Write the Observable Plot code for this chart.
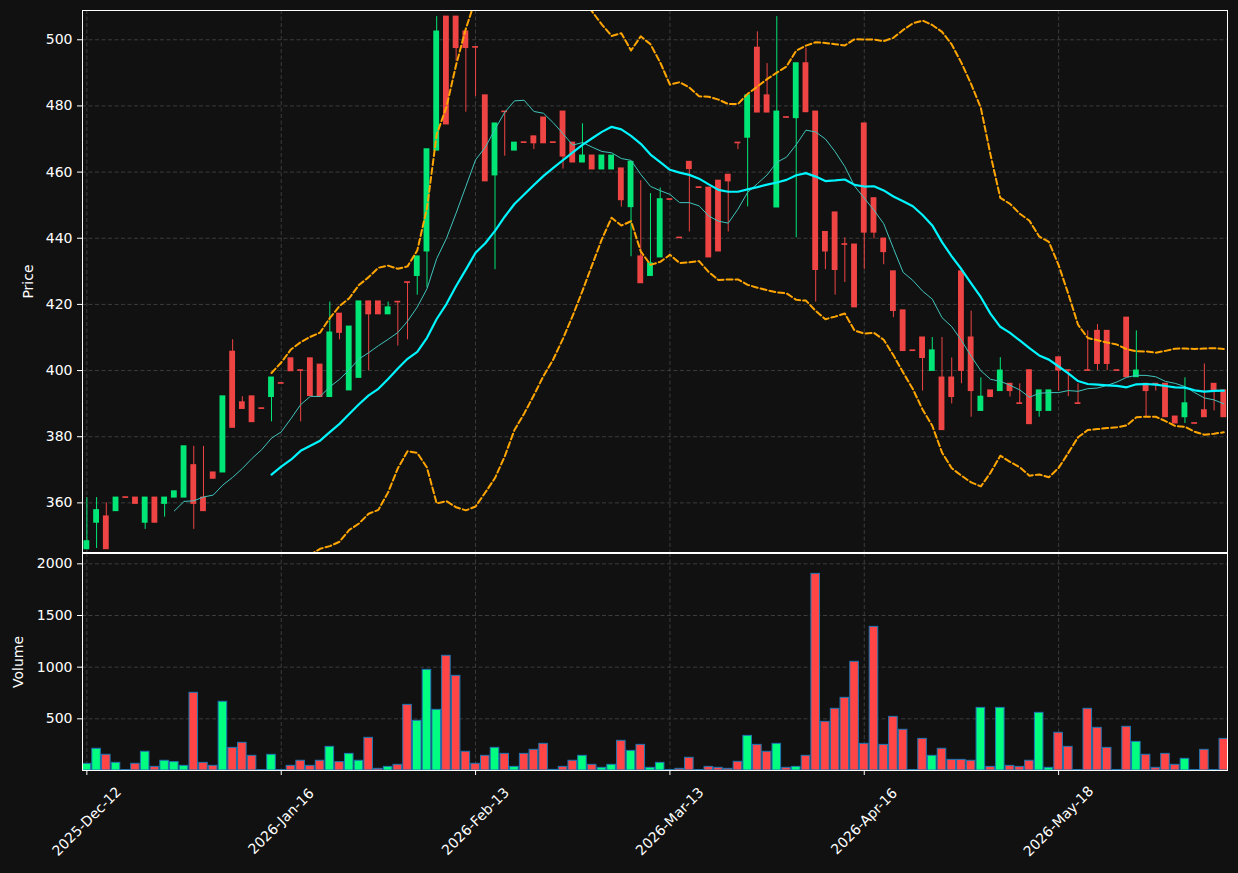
<!DOCTYPE html>
<html><head><meta charset="utf-8">
<script src="https://cdn.jsdelivr.net/npm/d3@7"></script>
<script src="https://cdn.jsdelivr.net/npm/@observablehq/plot@0.6"></script>
<style>
html,body{margin:0;padding:0;background:#111111;}
#chart{position:relative;width:1238px;height:873px;background:#111111;overflow:hidden;font-family:'DejaVu Sans',sans-serif;}
#chart svg{position:absolute;left:0;display:block;}
</style></head><body><div id="chart"></div>
<script>
const opens = [346.0,354.0,355.9,357.5,361.7,361.6,354.0,361.6,359.7,361.6,
361.6,371.4,361.6,369.2,369.2,405.7,390.4,392.2,388.6,392.0,
396.2,403.7,400.1,403.7,401.8,392.0,417.2,394.0,397.8,420.9,
420.9,417.0,420.8,426.7,428.6,436.0,466.5,507.0,507.0,502.5,
497.8,483.2,459.0,478.3,466.5,469.0,470.8,476.5,469.0,478.3,
468.9,462.9,465.0,460.8,460.8,461.1,449.4,434.5,428.6,434.2,
451.8,440.2,463.1,455.4,455.3,457.4,459.2,468.9,470.4,497.6,
483.2,449.3,476.6,476.3,492.9,478.3,441.9,447.8,438.2,438.1,
474.7,452.1,439.9,430.0,418.2,406.1,410.0,399.9,397.9,397.9,
430.0,410.0,387.8,394.0,393.8,396.0,390.1,400.1,387.8,387.8,
404.0,400.1,390.1,400.1,412.0,412.0,400.1,416.0,398.0,396.0,
396.0,396.0,386.1,385.9,384.1,388.0,396.0,394.0];
const highs = [361.6,361.6,360.0,361.6,361.7,361.6,361.6,361.6,361.6,363.5,
377.1,377.1,377.1,369.2,392.2,409.3,392.1,392.2,388.6,397.9,
396.2,403.7,400.1,403.7,401.8,420.7,417.2,413.3,420.9,420.9,
420.9,420.7,420.8,426.7,434.5,466.9,507.0,507.0,507.0,502.5,
497.8,483.2,474.7,478.3,468.9,469.0,470.8,476.5,469.0,478.3,
468.9,474.6,465.0,465.0,465.0,461.1,463.1,457.4,453.5,455.2,
451.8,440.2,463.1,455.4,455.3,457.4,459.2,468.9,483.2,502.4,
492.8,507.0,476.6,492.9,497.5,478.3,441.9,447.8,440.1,438.1,
474.7,452.1,439.9,430.0,418.2,406.1,410.0,410.0,410.0,403.8,
430.0,418.0,397.8,394.0,403.9,396.0,396.0,400.1,394.0,394.0,
404.0,400.1,396.0,412.0,413.9,412.0,400.1,416.0,412.0,396.0,
396.0,396.0,386.1,397.8,384.1,402.0,396.0,394.0];
const lows = [345.8,346.2,345.9,357.5,361.5,359.7,352.0,354.0,355.7,361.6,
361.6,352.0,357.5,367.3,369.2,382.7,388.4,384.4,388.4,384.5,
396.0,399.8,384.5,392.3,392.0,392.0,409.3,394.0,397.8,400.0,
417.0,417.0,407.4,409.3,422.8,425.0,466.5,474.4,493.5,478.1,
482.9,457.2,430.5,464.8,466.5,468.8,466.8,468.7,468.8,460.9,
462.9,462.9,460.8,460.8,460.8,449.4,434.4,426.4,428.6,434.2,
451.6,440.0,441.9,455.2,434.2,436.0,441.9,466.8,449.5,478.0,
478.0,449.3,476.4,440.1,478.1,420.7,430.5,422.8,426.6,419.1,
430.5,439.8,432.0,416.0,405.9,405.9,393.8,399.9,382.0,389.9,
396.0,385.9,387.8,392.0,393.8,392.0,389.9,383.8,385.9,387.8,
393.8,392.1,389.9,399.9,400.0,400.0,399.9,398.0,398.0,385.9,
393.8,385.9,384.0,384.0,383.9,385.9,387.8,385.9];
const closes = [348.4,357.8,346.0,361.6,361.5,359.7,361.6,354.0,361.6,363.5,
377.1,359.7,357.5,367.3,392.2,382.7,388.4,384.4,388.4,397.9,
396.0,399.8,399.9,392.3,392.0,411.5,411.4,413.3,420.9,417.0,
417.0,419.1,420.6,426.5,434.5,466.9,502.5,474.4,497.5,497.5,
497.6,457.2,474.7,478.1,468.9,468.8,468.7,468.7,468.8,464.7,
462.9,465.0,460.8,465.0,465.0,451.5,463.1,426.4,432.4,451.8,
451.6,440.0,460.9,455.2,434.2,436.0,457.2,468.7,483.2,478.0,
478.0,478.3,476.4,492.9,478.1,430.4,436.0,430.4,438.0,419.1,
441.7,441.7,435.8,418.0,405.9,405.9,403.8,406.1,382.0,392.0,
399.9,393.8,392.1,392.0,400.0,393.8,389.9,383.8,394.0,394.0,
400.0,399.9,389.9,399.9,402.0,402.0,399.9,398.0,400.0,393.8,
395.8,385.9,384.0,390.1,383.9,385.9,394.0,385.9];
const volumes = [64,210,152,74,4,65,181,35,94,81,
45,752,74,45,665,219,268,142,4,152,
4,45,94,45,94,229,81,161,94,316,
16,35,55,635,481,974,587,1110,916,181,
65,142,219,161,35,161,200,258,6,35,
94,142,55,26,55,287,190,248,26,74,
5,16,123,5,35,26,16,84,335,248,
181,258,26,35,142,1903,471,597,703,1052,
258,1390,248,519,394,5,306,142,210,103,
103,94,606,35,606,45,35,94,558,26,
365,229,5,597,413,219,5,423,277,152,
26,161,55,113,5,200,5,306];
const tickIndex = [0, 20, 40, 60, 80, 100];
const tickLabels = ["2025-Dec-12", "2026-Jan-16", "2026-Feb-13", "2026-Mar-13", "2026-Apr-16", "2026-May-18"];
const priceTicks = [360, 380, 400, 420, 440, 460, 480, 500];
const volumeTicks = [500, 1000, 1500, 2000];

// moving averages / bollinger bands derived from the closes
function rolling(k, f) {
  return closes.map((_, i) => i < k - 1 ? NaN : f(closes.slice(i - k + 1, i + 1)));
}
const ma10 = rolling(10, d3.mean);
const ma20 = rolling(20, d3.mean);
const bbUp = rolling(20, v => d3.mean(v) + 2 * d3.deviation(v));
const bbLo = rolling(20, v => d3.mean(v) - 2 * d3.deviation(v));

const rows = closes.map((c, i) => ({
  i, open: opens[i], high: highs[i], low: lows[i], close: c, volume: volumes[i],
  up: c >= opens[i], ma10: ma10[i], ma20: ma20[i], bbUp: bbUp[i], bbLo: bbLo[i]
}));

const W = 1238, ML = 82, MR = 11;
const xDomain = [-0.45, 117.38];
const FONT = "'DejaVu Sans', sans-serif";
const GREEN = "#00e676", RED = "#ef4444";
const VGREEN = "#00ff80", VRED = "#ff4545";
const grid = {stroke: "#3c3c3c", strokeOpacity: 1, strokeWidth: 1, strokeDasharray: "4,2.5"};
const style = {background: "transparent", color: "white", fontFamily: FONT, fontSize: "14px"};
const band = {stroke: "#ffa500", strokeWidth: 2, strokeDasharray: "6,3", clip: true};

const price = Plot.plot({
  width: W, height: 553, marginLeft: ML, marginRight: MR, marginTop: 10, marginBottom: 1,
  style,
  x: {domain: xDomain, axis: null},
  y: {domain: [345.0, 508.85], axis: null},
  marks: [
    Plot.gridX(tickIndex, grid),
    Plot.gridY(priceTicks, grid),
    Plot.ruleX(rows, {x: "i", y1: "low", y2: "high", stroke: d => d.up ? GREEN : RED, strokeWidth: 1, clip: true}),
    Plot.rect(rows, {x1: d => d.i - 0.3, x2: d => d.i + 0.3, y1: "open", y2: "close",
      fill: d => d.up ? GREEN : RED, insetTop: -0.5, insetBottom: -0.5, clip: true}),
    Plot.line(rows, {x: "i", y: "ma10", stroke: "#3fc4bb", strokeWidth: 1, clip: true}),
    Plot.line(rows, {x: "i", y: "ma20", stroke: "#00f5ff", strokeWidth: 2.2, clip: true}),
    Plot.line(rows, {x: "i", y: "bbUp", ...band}),
    Plot.line(rows, {x: "i", y: "bbLo", ...band}),
    Plot.axisY(priceTicks, {anchor: "left", tickSize: 5, tickPadding: 5, label: null,
      stroke: "white", fill: "white", fontSize: 14, fontFamily: FONT, tickFormat: d3.format("d")}),
    Plot.frame({stroke: "white", strokeWidth: 1}),
    Plot.text(["Price"], {frameAnchor: "left", dx: -54, rotate: -90, textAnchor: "middle", lineAnchor: "middle",
      fill: "white", fontSize: 14, fontFamily: FONT})
  ]
});
price.style.top = "0px";

const volume = Plot.plot({
  width: W, height: 321, marginLeft: ML, marginRight: MR, marginTop: 1, marginBottom: 103,
  style,
  x: {domain: xDomain, axis: null},
  y: {domain: [0, 2100], axis: null},
  marks: [
    Plot.gridX(tickIndex, grid),
    Plot.gridY(volumeTicks, grid),
    Plot.rectY(rows, {x1: d => d.i - 0.44, x2: d => d.i + 0.44, y: "volume",
      fill: d => d.up ? VGREEN : VRED, stroke: "#1f77b4", strokeWidth: 1, clip: true}),
    Plot.axisY(volumeTicks, {anchor: "left", tickSize: 5, tickPadding: 5, label: null,
      stroke: "white", fill: "white", fontSize: 14, fontFamily: FONT, tickFormat: d3.format("d")}),
    Plot.axisX(tickIndex, {anchor: "bottom", tickSize: 5, tickPadding: 4, label: null,
      tickFormat: () => "", stroke: "white"}),
    Plot.text(tickIndex, {x: d => d, text: d => tickLabels[tickIndex.indexOf(d)], frameAnchor: "bottom",
      dy: 51, rotate: -45, textAnchor: "middle", lineAnchor: "middle", fill: "white", fontSize: 14, fontFamily: FONT}),
    Plot.frame({stroke: "white", strokeWidth: 1}),
    Plot.text(["Volume"], {frameAnchor: "left", dx: -64, rotate: -90, textAnchor: "middle", lineAnchor: "middle",
      fill: "white", fontSize: 14, fontFamily: FONT})
  ]
});
volume.style.top = "552px";

const host = document.getElementById("chart");
host.append(price, volume);
</script>
</body></html>
